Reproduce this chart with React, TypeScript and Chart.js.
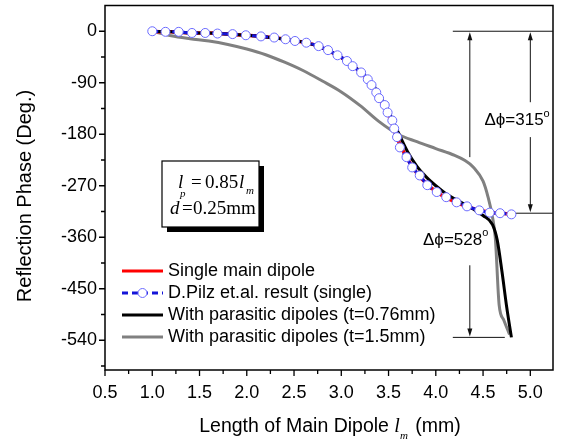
import React, { useEffect, useRef } from 'react';
import { Chart, registerables } from 'chart.js';

Chart.register(...registerables);

const SANS = "'Liberation Sans', Arial, sans-serif";
const SERIF = "'Liberation Serif', 'Times New Roman', serif";

// ---- axes ----
const X_MIN = 0.5;
const X_MAX = 5.24;
const Y_MIN = -592;
const Y_MAX = 45;
const xMajorTicks = [0.5, 1.0, 1.5, 2.0, 2.5, 3.0, 3.5, 4.0, 4.5, 5.0];
const xTickLabels = ['0.5', '1.0', '1.5', '2.0', '2.5', '3.0', '3.5', '4.0', '4.5', '5.0'];
const xMinorTicks = [0.75, 1.25, 1.75, 2.25, 2.75, 3.25, 3.75, 4.25, 4.75];
const yMajorTicks = [0, -90, -180, -270, -360, -450, -540];
const yTickLabels = ['0', '-90', '-180', '-270', '-360', '-450', '-540'];
const yMinorTicks = [-45, -135, -225, -315, -405, -495, -585];

// ---- series ----
const singleX = [1.0, 1.1, 1.2, 1.3, 1.4, 1.5, 1.6, 1.7, 1.8, 1.9, 2.0, 2.1, 2.2, 2.3, 2.4, 2.5, 2.6, 2.7, 2.8, 2.9, 3.0, 3.1, 3.2, 3.3, 3.4, 3.5, 3.6, 3.7, 3.8, 3.9, 4.0, 4.1, 4.2, 4.3, 4.4, 4.5, 4.6, 4.7, 4.8];
const singleY = [0, -1, -1, -2, -3, -3, -3, -4, -5, -6, -7, -8, -10, -11, -14, -17, -19, -23, -29, -37, -46, -58, -71, -89, -117, -146, -190, -223, -248, -266, -280, -290, -298, -305, -310, -314, -317, -318, -320];

const pilzX = [1.0, 1.14, 1.28, 1.42, 1.56, 1.69, 1.85, 1.99, 2.15, 2.29, 2.41, 2.51, 2.63, 2.76, 2.86, 2.96, 3.06, 3.12, 3.21, 3.28, 3.32, 3.37, 3.40, 3.46, 3.49, 3.54, 3.56, 3.59, 3.62, 3.69, 3.75, 3.83, 3.91, 4.01, 4.11, 4.22, 4.33, 4.46, 4.57, 4.68, 4.8];
const pilzY = [0, -1, -1, -3, -3, -4, -5, -7, -9, -11, -14, -17, -20, -26, -33, -42, -52, -61, -72, -84, -94, -107, -117, -129, -142, -156, -170, -185, -203, -220, -238, -252, -269, -281, -290, -299, -306, -313, -317, -318, -320];

const t076X = [1.0, 1.2, 1.4, 1.6, 1.8, 2.0, 2.2, 2.4, 2.6, 2.8, 3.0, 3.1, 3.2, 3.3, 3.4, 3.5, 3.6, 3.7, 3.8, 3.9, 4.0, 4.1, 4.2, 4.3, 4.4, 4.5, 4.6, 4.65, 4.7, 4.75, 4.8];
const t076Y = [0, -1, -3, -3, -5, -7, -10, -14, -19, -29, -46, -57, -70, -86, -110, -140, -176, -210, -236, -255, -270, -283, -293, -302, -311, -322, -338, -365, -420, -482, -535];

const t15X = [1.0, 1.2, 1.4, 1.6, 1.8, 2.0, 2.2, 2.4, 2.6, 2.8, 3.0, 3.2, 3.4, 3.6, 3.8, 4.0, 4.2, 4.3, 4.4, 4.5, 4.55, 4.6, 4.63, 4.67, 4.72, 4.78];
const t15Y = [0, -8, -13, -17, -23, -31, -41, -54, -69, -87, -106, -130, -158, -180, -193, -205, -217, -225, -238, -262, -288, -325, -362, -478, -505, -530];

const legendLabels = [
  'Single main dipole',
  'D.Pilz et.al. result (single)',
  'With parasitic dipoles (t=0.76mm)',
  'With parasitic dipoles (t=1.5mm)',
];

// ---- annotations (data units) ----
const topLine = { x1: 4.18, x2: X_MAX, y: 0 };
const span315 = { x: 5.0, y1: 0, y2: -318, gapTop: -124, gapBottom: -185, textX: 4.86, textY: -156, label: 'Δϕ=315', lineX1: 4.85, lineX2: X_MAX };
const span528 = { x: 4.36, y1: 0, y2: -535, gapTop: -220, gapBottom: -409, textX: 4.21, textY: -365, label: 'Δϕ=528', lineX1: 4.18, lineX2: 4.73 };

const pts = (xs: number[], ys: number[]) => xs.map((x, i) => ({ x, y: ys[i] }));

function drawRuns(ctx: CanvasRenderingContext2D, runs: { t: string; f: string; dx?: number; dy?: number }[], x: number, y: number, align: 'left' | 'center') {
  let total = 0;
  for (const r of runs) {
    ctx.font = r.f;
    total += ctx.measureText(r.t).width + (r.dx || 0);
  }
  let cx = align === 'center' ? x - total / 2 : x;
  ctx.textAlign = 'left';
  for (const r of runs) {
    ctx.font = r.f;
    cx += r.dx || 0;
    ctx.fillText(r.t, cx, y + (r.dy || 0));
    cx += ctx.measureText(r.t).width;
  }
}

function arrowHead(ctx: CanvasRenderingContext2D, x: number, y: number, dir: number) {
  ctx.beginPath();
  ctx.moveTo(x, y);
  ctx.lineTo(x - 2.5, y - dir * 8);
  ctx.lineTo(x + 2.5, y - dir * 8);
  ctx.closePath();
  ctx.fill();
}

const zeroPad = (s: any) => {
  s.paddingTop = 0;
  s.paddingBottom = 0;
  s.paddingLeft = 0;
  s.paddingRight = 0;
};

const overlay = {
  id: 'overlay',
  afterDraw(chart: any) {
    const ctx: CanvasRenderingContext2D = chart.ctx;
    const xs = chart.scales.x;
    const ys = chart.scales.y;
    const ca = chart.chartArea;
    ctx.save();
    ctx.strokeStyle = '#000';
    ctx.fillStyle = '#000';

    // frame
    ctx.lineWidth = 1.5;
    ctx.strokeRect(ca.left, ca.top, ca.right - ca.left, ca.bottom - ca.top);

    // ticks
    ctx.lineWidth = 1.3;
    ctx.beginPath();
    for (const v of xMajorTicks) {
      const p = xs.getPixelForValue(v);
      ctx.moveTo(p, ca.bottom);
      ctx.lineTo(p, ca.bottom + 6);
    }
    for (const v of xMinorTicks) {
      const p = xs.getPixelForValue(v);
      ctx.moveTo(p, ca.bottom);
      ctx.lineTo(p, ca.bottom + 4);
    }
    for (const v of yMajorTicks) {
      const p = ys.getPixelForValue(v);
      ctx.moveTo(ca.left, p);
      ctx.lineTo(ca.left - 6, p);
    }
    for (const v of yMinorTicks) {
      const p = ys.getPixelForValue(v);
      ctx.moveTo(ca.left, p);
      ctx.lineTo(ca.left - 4, p);
    }
    ctx.stroke();

    // axis titles
    ctx.fillStyle = '#000';
    ctx.textBaseline = 'alphabetic';
    drawRuns(ctx, [
      { t: 'Length of Main Dipole ', f: `19.5px ${SANS}` },
      { t: 'l', f: `italic 20px ${SERIF}` },
      { t: 'm', f: `italic 11px ${SERIF}`, dy: 7 },
      { t: ' (mm)', f: `19.5px ${SANS}`, dx: 2 },
    ], 330, 432, 'center');

    ctx.save();
    ctx.translate(31, 196);
    ctx.rotate(-Math.PI / 2);
    ctx.font = `20px ${SANS}`;
    ctx.textAlign = 'center';
    ctx.fillText('Reflection Phase (Deg.)', 0, 0);
    ctx.restore();

    // annotation lines & arrows
    ctx.lineWidth = 1;
    ctx.strokeStyle = '#111';
    ctx.fillStyle = '#111';
    const hline = (x1: number, x2: number, y: number) => {
      ctx.beginPath();
      ctx.moveTo(xs.getPixelForValue(x1), ys.getPixelForValue(y));
      ctx.lineTo(Math.min(xs.getPixelForValue(x2), ca.right), ys.getPixelForValue(y));
      ctx.stroke();
    };
    hline(topLine.x1, topLine.x2, topLine.y);
    for (const s of [span315, span528]) {
      hline(s.lineX1, s.lineX2, s.y2);
      const px = xs.getPixelForValue(s.x);
      const yTop = ys.getPixelForValue(s.y1) + 1;
      const yBot = ys.getPixelForValue(s.y2) - 1;
      const g1 = ys.getPixelForValue(s.gapTop);
      const g2 = ys.getPixelForValue(s.gapBottom);
      ctx.beginPath();
      ctx.moveTo(px, g1);
      ctx.lineTo(px, yTop + 6);
      ctx.moveTo(px, g2);
      ctx.lineTo(px, yBot - 6);
      ctx.stroke();
      arrowHead(ctx, px, yTop, -1);
      arrowHead(ctx, px, yBot, 1);
      ctx.fillStyle = '#000';
      ctx.textBaseline = 'middle';
      drawRuns(ctx, [
        { t: s.label, f: `17px ${SANS}` },
        { t: 'o', f: `11px ${SANS}`, dy: -7 },
      ], xs.getPixelForValue(s.textX), ys.getPixelForValue(s.textY), 'center');
      ctx.fillStyle = '#111';
    }

    // parameter box
    const bx = 162, by = 161, bw = 97, bh = 66;
    ctx.fillStyle = '#000';
    ctx.fillRect(bx + 5, by + 5, bw, bh);
    ctx.fillStyle = '#fff';
    ctx.fillRect(bx, by, bw, bh);
    ctx.strokeStyle = '#000';
    ctx.lineWidth = 1.2;
    ctx.strokeRect(bx, by, bw, bh);
    ctx.fillStyle = '#000';
    ctx.textBaseline = 'alphabetic';
    ctx.textAlign = 'left';
    ctx.font = `italic 19px ${SERIF}`;
    ctx.fillText('l', bx + 16, by + 27);
    ctx.font = `italic 11px ${SERIF}`;
    ctx.fillText('p', bx + 18, by + 36);
    ctx.font = `19px ${SERIF}`;
    ctx.fillText('=', bx + 29, by + 27);
    ctx.fillText('0.85', bx + 43, by + 27);
    ctx.font = `italic 19px ${SERIF}`;
    ctx.fillText('l', bx + 77, by + 27);
    ctx.font = `italic 11px ${SERIF}`;
    ctx.fillText('m', bx + 84, by + 33);
    ctx.font = `italic 19px ${SERIF}`;
    ctx.fillText('d', bx + 8, by + 53);
    ctx.font = `19px ${SERIF}`;
    ctx.fillText('=', bx + 20, by + 53);
    ctx.fillText('0.25mm', bx + 31, by + 53);

    // legend
    const lx1 = 122, lx2 = 163, tx = 168;
    const rows = [271, 293, 315, 337];
    ctx.font = `18px ${SANS}`;
    ctx.textBaseline = 'middle';
    rows.forEach((ry, i) => {
      ctx.save();
      ctx.beginPath();
      ctx.moveTo(lx1, ry);
      ctx.lineTo(lx2, ry);
      if (i === 0) { ctx.strokeStyle = '#ff0000'; ctx.lineWidth = 3; }
      if (i === 1) { ctx.strokeStyle = '#1414d8'; ctx.lineWidth = 3; ctx.setLineDash([6, 4]); }
      if (i === 2) { ctx.strokeStyle = '#000'; ctx.lineWidth = 3; }
      if (i === 3) { ctx.strokeStyle = '#808080'; ctx.lineWidth = 3; }
      ctx.stroke();
      if (i === 1) {
        ctx.setLineDash([]);
        ctx.beginPath();
        ctx.arc((lx1 + lx2) / 2, ry, 4.5, 0, Math.PI * 2);
        ctx.fillStyle = '#fff';
        ctx.fill();
        ctx.strokeStyle = '#6a6aff';
        ctx.lineWidth = 1;
        ctx.stroke();
      }
      ctx.restore();
      ctx.fillStyle = '#000';
      ctx.fillText(legendLabels[i], tx, ry);
    });

    ctx.restore();
  },
};

export default function App() {
  const ref = useRef<HTMLCanvasElement | null>(null);
  useEffect(() => {
    if (!ref.current) return;
    const chart = new Chart(ref.current, {
      type: 'line',
      data: {
        datasets: [
          {
            label: legendLabels[1],
            data: pts(pilzX, pilzY),
            borderColor: '#1414d8',
            borderWidth: 3,
            borderDash: [6, 4],
            pointRadius: 4.5,
            pointBackgroundColor: '#ffffff',
            pointBorderColor: '#6a6aff',
            pointBorderWidth: 1,
            cubicInterpolationMode: 'monotone',
            fill: false,
          },
          {
            label: legendLabels[2],
            data: pts(t076X, t076Y),
            borderColor: '#000000',
            borderWidth: 3,
            pointRadius: 0,
            cubicInterpolationMode: 'monotone',
            fill: false,
          },
          {
            label: legendLabels[0],
            data: pts(singleX, singleY),
            borderColor: '#ff0000',
            borderWidth: 3.5,
            pointRadius: 0,
            cubicInterpolationMode: 'monotone',
            fill: false,
          },
          {
            label: legendLabels[3],
            data: pts(t15X, t15Y),
            borderColor: '#808080',
            borderWidth: 3,
            pointRadius: 0,
            cubicInterpolationMode: 'monotone',
            fill: false,
          },
        ],
      },
      options: {
        responsive: false,
        maintainAspectRatio: false,
        animation: false,
        layout: { padding: { top: 5, right: 9, left: 0, bottom: 0 } },
        plugins: { legend: { display: false }, tooltip: { enabled: false } },
        scales: {
          x: {
            type: 'linear',
            min: X_MIN,
            max: X_MAX,
            grid: { display: false, drawTicks: false },
            border: { display: false },
            afterBuildTicks: (s: any) => { s.ticks = xMajorTicks.map((v) => ({ value: v })); },
            afterFit: (s: any) => { s.height = 72; zeroPad(s); },
            ticks: {
              autoSkip: false,
              maxRotation: 0,
              padding: 12,
              color: '#000',
              font: { family: SANS, size: 18 },
              callback: (v: any) => xTickLabels[xMajorTicks.indexOf(Number(v))] ?? '',
            },
          },
          y: {
            type: 'linear',
            min: Y_MIN,
            max: Y_MAX,
            grid: { display: false, drawTicks: false },
            border: { display: false },
            afterBuildTicks: (s: any) => { s.ticks = yMajorTicks.map((v) => ({ value: v })); },
            afterFit: (s: any) => { s.width = 105; zeroPad(s); },
            ticks: {
              autoSkip: false,
              padding: 8,
              color: '#000',
              font: { family: SANS, size: 18 },
              callback: (v: any) => yTickLabels[yMajorTicks.indexOf(Number(v))] ?? '',
            },
          },
        },
      },
      plugins: [overlay],
    } as any);
    return () => chart.destroy();
  }, []);
  return (
    <div style={{ position: 'fixed', left: 0, top: 0, width: 562, height: 442, background: '#fff' }}>
      <canvas ref={ref} width={562} height={442} style={{ display: 'block', width: 562, height: 442 }} />
    </div>
  );
}
